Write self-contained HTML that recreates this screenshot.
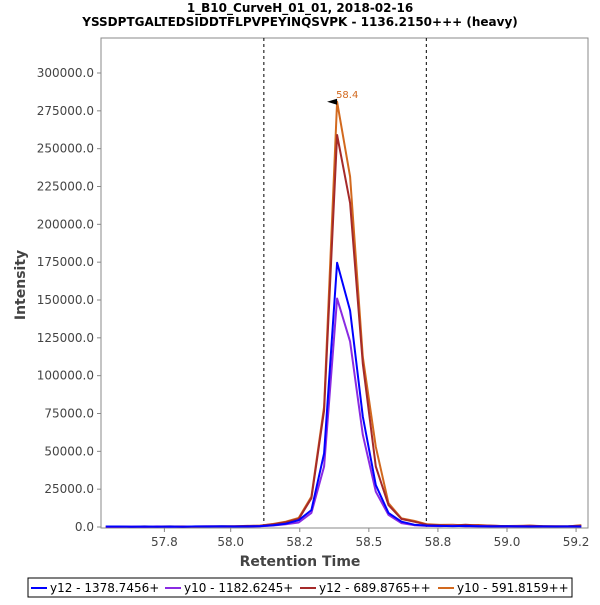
<!DOCTYPE html>
<html><head><meta charset="utf-8"><style>
body{margin:0;background:#fff;font-family:"Liberation Sans","DejaVu Sans",sans-serif}
svg text{font-family:"DejaVu Sans","Liberation Sans",sans-serif}
</style></head><body>
<svg id="chart" width="600" height="600" xmlns="http://www.w3.org/2000/svg">
<text x="300" y="12" text-anchor="middle" font-size="12" font-weight="bold">1_B10_CurveH_01_01, 2018-02-16</text>
<text x="300" y="26" text-anchor="middle" font-size="12" font-weight="bold">YSSDPTGALTEDSIDDTFLPVPEYINQSVPK - 1136.2150+++ (heavy)</text>
<rect x="101" y="38" width="487" height="490" fill="#fff" stroke="#888"/>
<g id="yaxis"></g><g id="xaxis"></g><g id="series"></g>
<text x="300" y="566" text-anchor="middle" font-size="14" font-weight="bold" fill="#444">Retention Time</text>
<text transform="translate(25,285) rotate(-90)" text-anchor="middle" font-size="14" font-weight="bold" fill="#444">Intensity</text>
<g id="legend"><rect x="28" y="578" width="544" height="19" fill="#fff" stroke="#000"/></g>
</svg>
<script>
const times=[57.548,57.595,57.641,57.688,57.734,57.781,57.827,57.874,57.920,57.967,58.013,58.060,58.106,58.153,58.199,58.246,58.292,58.338,58.385,58.432,58.478,58.525,58.571,58.618,58.664,58.711,58.757,58.804,58.850,58.897,58.943,58.990,59.036,59.083,59.129,59.176,59.222,59.269];
const y12a=[300,300,200,300,200,300,200,400,300,500,300,400,600,1200,2200,4500,11200,48700,174600,143000,73000,27700,9300,3500,1500,900,700,600,700,500,400,500,400,300,400,300,400,300];
const y10a=[200,200,300,200,400,200,300,300,500,300,400,300,500,1000,1800,3000,9300,40000,151000,122500,61000,23300,8000,2600,1200,700,600,800,500,600,400,300,500,400,300,400,300,300];
const y12b=[200,200,300,200,300,400,200,300,400,300,500,700,800,1800,3200,5300,19000,77000,259000,214000,108000,40000,14500,5300,3500,1500,1200,1000,1500,1000,900,600,500,800,500,400,500,900];
const y10b=[300,300,200,400,200,300,400,200,300,500,400,600,900,2000,3500,6000,20000,79500,281000,231500,112500,53000,15700,5700,4000,1800,1400,1500,1000,1300,800,600,700,900,600,500,400,1100];
const seriesNames=["y12 - 1378.7456+","y10 - 1182.6245+","y12 - 689.8765++","y10 - 591.8159++"];
const seriesColors=["#0000ff","#8a2be2","#a52a2a","#d2691e"];
const yTicks=[0,25000,50000,75000,100000,125000,150000,175000,200000,225000,250000,275000,300000];
const xTicks=[57.76,58.0,58.25,58.5,58.75,59.0,59.25];
const xTickLabels=["57.8","58.0","58.2","58.5","58.8","59.0","59.2"];
const boundaries=[58.12,58.708];
const peakTime=58.385, peakValue=281000, peakLabel="58.4";
const NS="http://www.w3.org/2000/svg";
const xs=v=>230.7+(v-58.0)*276.3;
const ys=v=>527-v*454/300000;
function mk(tag,attrs,parent){const e=document.createElementNS(NS,tag);for(const k in attrs)e.setAttribute(k,attrs[k]);parent.appendChild(e);return e;}
const ya=document.getElementById('yaxis'),xa=document.getElementById('xaxis'),sg=document.getElementById('series'),lg=document.getElementById('legend');
yTicks.forEach(t=>{
  const l=mk('line',{x1:97,x2:101,y1:ys(t),y2:ys(t),stroke:'#888'},ya);
  
  
  const tx=mk('text',{x:94,y:ys(t)+4,'text-anchor':'end','font-size':'12',fill:'#444'},ya);
  tx.textContent=t.toFixed(1);
  
  
});
xTicks.forEach((t,i)=>{
  const l=mk('line',{x1:xs(t),x2:xs(t),y1:528,y2:532,stroke:'#888'},xa);
  
  
  const tx=mk('text',{x:xs(t),y:546,'text-anchor':'middle','font-size':'12',fill:'#444'},xa);
  tx.textContent=xTickLabels[i];
  
  
});
boundaries.forEach(b=>{
  const l=mk('line',{x1:xs(b),x2:xs(b),y1:38,y2:528,stroke:'#000','stroke-dasharray':'3,3','stroke-width':1},sg);
  
  
});
const allSeries=[y12a,y10a,y12b,y10b];
[3,2,1,0].forEach(si=>{
  const arr=allSeries[si];
  const d=arr.map((v,i)=>(i?'L':'M')+xs(times[i]).toFixed(1)+','+ys(v).toFixed(1)).join('');
  const p=mk('path',{d:d,fill:'none',stroke:seriesColors[si],'stroke-width':2,'stroke-linejoin':'round'},sg);
  
  
});
const px=xs(peakTime),py=ys(peakValue);
const ar=mk('polygon',{points:`${px-10},${py} ${px},${py-3} ${px},${py+3}`,fill:'#000'},sg);


const pl=mk('text',{x:px-1,y:py-4,'font-size':'10',fill:'#d2691e'},sg);
pl.textContent=peakLabel;


const lx=[31,165,300,438];
seriesNames.forEach((n,i)=>{
  const l=mk('line',{x1:lx[i],x2:lx[i]+16,y1:588,y2:588,stroke:seriesColors[i],'stroke-width':2},lg);
  
  
  const t=mk('text',{x:lx[i]+19,y:592,'font-size':'12',fill:'#000'},lg);
  t.textContent=n;
  
  
});
</script>
</body></html>
